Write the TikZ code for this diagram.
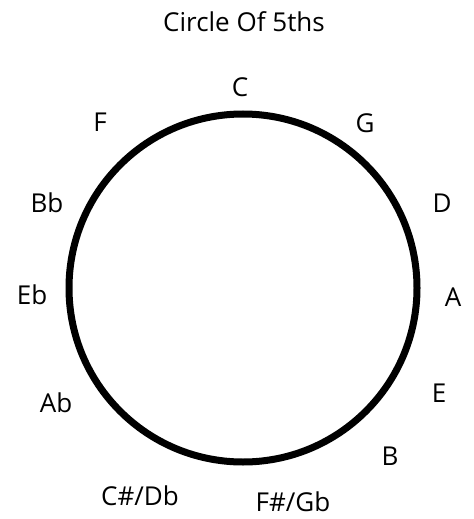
\documentclass[tikz,border=0pt]{standalone}
\usepackage{fontspec}
\setmainfont{Open Sans}
\usepackage{tikz}

\begin{document}
\begin{tikzpicture}[
  x=0.5pt, y=-0.5pt,
  font=\fontsize{13}{15}\selectfont,
  key/.style={inner sep=0pt, anchor=center},
  ring/.style={line width=3.5pt}]
  \useasboundingbox (0,0) rectangle (473,519);
  % Title
  \node[key] (title) at (244,22) {Circle Of 5ths};
  % Circle
  \coordinate (o) at (243,288);
  \draw[ring] (o) circle[radius=87pt];
  % Keys (clockwise from top)
  \node[key] (kC)  at (240,87)  {C};
  \node[key] (kG)  at (365,123) {G};
  \node[key] (kD)  at (442,203) {D};
  \node[key] (kA)  at (453,297) {A};
  \node[key] (kE)  at (439,393) {E};
  \node[key] (kB)  at (390,456) {B};
  \node[key] (kFs) at (293,502) {F\#/Gb};
  \node[key] (kCs) at (140,496) {C\#/Db};
  \node[key] (kAb) at (56,403)  {Ab};
  \node[key] (kEb) at (32,295)  {Eb};
  \node[key] (kBb) at (47,203)  {Bb};
  \node[key] (kF)  at (100,122) {F};
\end{tikzpicture}
\end{document}
